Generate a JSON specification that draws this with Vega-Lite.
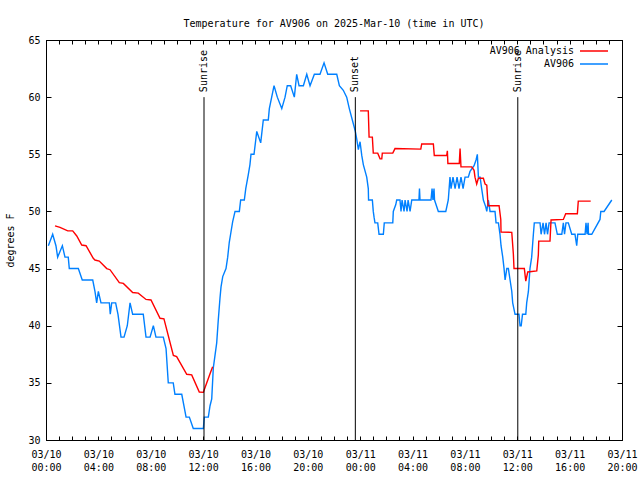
{
  "$schema": "https://vega.github.io/schema/vega-lite/v6.json",
  "width": 576,
  "height": 400,
  "autosize": {"type": "none"},
  "padding": {"left": 46, "top": 40, "right": 18, "bottom": 40},
  "background": "white",
  "title": {"text": "Temperature for AV906 on 2025-Mar-10 (time in UTC)", "font": "DejaVu Sans Mono", "fontSize": 10, "fontWeight": "normal", "color": "black", "anchor": "middle", "baseline": "alphabetic", "offset": -2},
  "config": {
    "view": {"stroke": "black", "strokeWidth": 1},
    "axis": {"grid": false, "domainColor": "black", "tickColor": "black", "labelColor": "black", "labelFont": "DejaVu Sans Mono", "labelFontSize": 10, "titleFont": "DejaVu Sans Mono", "titleFontSize": 10, "titleFontWeight": "normal", "titleColor": "black", "labelOverlap": false, "labelFlush": false}
  },
  "datasets": {
    "temps": [
      {"series":"AV906","seg":"o","hour":0.18,"temp":47},{"series":"AV906","seg":"o","hour":0.51,"temp":48},{"series":"AV906","seg":"o","hour":0.76,"temp":47},{"series":"AV906","seg":"o","hour":0.89,"temp":46},{"series":"AV906","seg":"o","hour":1.25,"temp":47},{"series":"AV906","seg":"o","hour":1.45,"temp":46},{"series":"AV906","seg":"o","hour":1.70,"temp":46},{"series":"AV906","seg":"o","hour":1.78,"temp":45},{"series":"AV906","seg":"o","hour":2.47,"temp":45},{"series":"AV906","seg":"o","hour":2.77,"temp":44},
      {"series":"AV906","seg":"o","hour":3.57,"temp":44},{"series":"AV906","seg":"o","hour":3.74,"temp":43},{"series":"AV906","seg":"o","hour":3.87,"temp":42},{"series":"AV906","seg":"o","hour":4.00,"temp":43},{"series":"AV906","seg":"o","hour":4.20,"temp":42},{"series":"AV906","seg":"o","hour":4.84,"temp":42},{"series":"AV906","seg":"o","hour":4.91,"temp":41},{"series":"AV906","seg":"o","hour":5.02,"temp":42},{"series":"AV906","seg":"o","hour":5.32,"temp":42},{"series":"AV906","seg":"o","hour":5.50,"temp":41},
      {"series":"AV906","seg":"o","hour":5.73,"temp":39},{"series":"AV906","seg":"o","hour":5.96,"temp":39},{"series":"AV906","seg":"o","hour":6.21,"temp":40},{"series":"AV906","seg":"o","hour":6.42,"temp":42},{"series":"AV906","seg":"o","hour":6.62,"temp":41},{"series":"AV906","seg":"o","hour":7.43,"temp":41},{"series":"AV906","seg":"o","hour":7.64,"temp":39},{"series":"AV906","seg":"o","hour":7.95,"temp":39},{"series":"AV906","seg":"o","hour":8.20,"temp":40},{"series":"AV906","seg":"o","hour":8.40,"temp":39},
      {"series":"AV906","seg":"o","hour":8.96,"temp":39},{"series":"AV906","seg":"o","hour":9.17,"temp":38},{"series":"AV906","seg":"o","hour":9.34,"temp":35},{"series":"AV906","seg":"o","hour":9.72,"temp":35},{"series":"AV906","seg":"o","hour":9.85,"temp":34},{"series":"AV906","seg":"o","hour":10.37,"temp":34},{"series":"AV906","seg":"o","hour":10.70,"temp":32},{"series":"AV906","seg":"o","hour":10.95,"temp":32},{"series":"AV906","seg":"o","hour":11.25,"temp":31},{"series":"AV906","seg":"o","hour":12.02,"temp":31},
      {"series":"AV906","seg":"o","hour":12.09,"temp":32},{"series":"AV906","seg":"o","hour":12.40,"temp":32},{"series":"AV906","seg":"o","hour":12.53,"temp":33},{"series":"AV906","seg":"o","hour":12.66,"temp":33.6},{"series":"AV906","seg":"o","hour":12.78,"temp":36.3},{"series":"AV906","seg":"o","hour":12.91,"temp":37.4},{"series":"AV906","seg":"o","hour":13.04,"temp":38.5},{"series":"AV906","seg":"o","hour":13.16,"temp":40.5},{"series":"AV906","seg":"o","hour":13.29,"temp":42.4},{"series":"AV906","seg":"o","hour":13.37,"temp":43.4},
      {"series":"AV906","seg":"o","hour":13.50,"temp":44.3},{"series":"AV906","seg":"o","hour":13.75,"temp":45},{"series":"AV906","seg":"o","hour":13.88,"temp":46},{"series":"AV906","seg":"o","hour":14.00,"temp":47.3},{"series":"AV906","seg":"o","hour":14.13,"temp":48.2},{"series":"AV906","seg":"o","hour":14.26,"temp":49.1},{"series":"AV906","seg":"o","hour":14.44,"temp":50},{"series":"AV906","seg":"o","hour":14.77,"temp":50},{"series":"AV906","seg":"o","hour":14.87,"temp":51},{"series":"AV906","seg":"o","hour":15.15,"temp":51},
      {"series":"AV906","seg":"o","hour":15.26,"temp":52},{"series":"AV906","seg":"o","hour":15.45,"temp":53.2},{"series":"AV906","seg":"o","hour":15.58,"temp":54.1},{"series":"AV906","seg":"o","hour":15.66,"temp":55},{"series":"AV906","seg":"o","hour":15.89,"temp":55},{"series":"AV906","seg":"o","hour":16.10,"temp":57},{"series":"AV906","seg":"o","hour":16.40,"temp":56},{"series":"AV906","seg":"o","hour":16.60,"temp":58},{"series":"AV906","seg":"o","hour":16.98,"temp":58},{"series":"AV906","seg":"o","hour":17.06,"temp":59},
      {"series":"AV906","seg":"o","hour":17.24,"temp":60},{"series":"AV906","seg":"o","hour":17.42,"temp":61},{"series":"AV906","seg":"o","hour":17.67,"temp":60},{"series":"AV906","seg":"o","hour":18.01,"temp":59},{"series":"AV906","seg":"o","hour":18.26,"temp":60},{"series":"AV906","seg":"o","hour":18.43,"temp":61},{"series":"AV906","seg":"o","hour":18.69,"temp":61},{"series":"AV906","seg":"o","hour":18.97,"temp":60},{"series":"AV906","seg":"o","hour":19.15,"temp":62},{"series":"AV906","seg":"o","hour":19.33,"temp":61},
      {"series":"AV906","seg":"o","hour":19.66,"temp":61},{"series":"AV906","seg":"o","hour":19.92,"temp":62},{"series":"AV906","seg":"o","hour":20.17,"temp":61},{"series":"AV906","seg":"o","hour":20.50,"temp":62},{"series":"AV906","seg":"o","hour":20.93,"temp":62},{"series":"AV906","seg":"o","hour":21.24,"temp":63},{"series":"AV906","seg":"o","hour":21.52,"temp":62},{"series":"AV906","seg":"o","hour":22.21,"temp":62},{"series":"AV906","seg":"o","hour":22.41,"temp":61},{"series":"AV906","seg":"o","hour":22.71,"temp":60.6},
      {"series":"AV906","seg":"o","hour":22.97,"temp":60},{"series":"AV906","seg":"o","hour":23.17,"temp":59},{"series":"AV906","seg":"o","hour":23.40,"temp":58},{"series":"AV906","seg":"o","hour":23.63,"temp":57},{"series":"AV906","seg":"o","hour":23.74,"temp":56.3},{"series":"AV906","seg":"o","hour":23.86,"temp":55.4},{"series":"AV906","seg":"o","hour":23.99,"temp":56.1},{"series":"AV906","seg":"o","hour":24.12,"temp":54.9},{"series":"AV906","seg":"o","hour":24.24,"temp":54.1},{"series":"AV906","seg":"o","hour":24.50,"temp":53},
      {"series":"AV906","seg":"o","hour":24.62,"temp":52},{"series":"AV906","seg":"o","hour":24.64,"temp":51},{"series":"AV906","seg":"o","hour":24.93,"temp":51},{"series":"AV906","seg":"o","hour":25.00,"temp":50},{"series":"AV906","seg":"o","hour":25.06,"temp":49.5},{"series":"AV906","seg":"o","hour":25.13,"temp":49},{"series":"AV906","seg":"o","hour":25.34,"temp":49},{"series":"AV906","seg":"o","hour":25.44,"temp":48},{"series":"AV906","seg":"o","hour":25.77,"temp":48},{"series":"AV906","seg":"o","hour":25.84,"temp":49},
      {"series":"AV906","seg":"o","hour":26.49,"temp":49},{"series":"AV906","seg":"o","hour":26.53,"temp":50},{"series":"AV906","seg":"o","hour":26.72,"temp":50.6},{"series":"AV906","seg":"o","hour":26.79,"temp":51},{"series":"AV906","seg":"o","hour":27.04,"temp":51},{"series":"AV906","seg":"o","hour":27.12,"temp":50},{"series":"AV906","seg":"o","hour":27.20,"temp":51},{"series":"AV906","seg":"o","hour":27.35,"temp":50},{"series":"AV906","seg":"o","hour":27.43,"temp":51},{"series":"AV906","seg":"o","hour":27.58,"temp":50},
      {"series":"AV906","seg":"o","hour":27.66,"temp":51},{"series":"AV906","seg":"o","hour":27.81,"temp":50},{"series":"AV906","seg":"o","hour":27.94,"temp":51},{"series":"AV906","seg":"o","hour":28.49,"temp":51},{"series":"AV906","seg":"o","hour":28.53,"temp":52},{"series":"AV906","seg":"o","hour":28.57,"temp":51},{"series":"AV906","seg":"o","hour":29.41,"temp":51},{"series":"AV906","seg":"o","hour":29.49,"temp":52},{"series":"AV906","seg":"o","hour":29.56,"temp":51},{"series":"AV906","seg":"o","hour":29.64,"temp":52},
      {"series":"AV906","seg":"o","hour":29.68,"temp":51},{"series":"AV906","seg":"o","hour":29.97,"temp":50},{"series":"AV906","seg":"o","hour":30.54,"temp":50},{"series":"AV906","seg":"o","hour":30.73,"temp":51},{"series":"AV906","seg":"o","hour":30.86,"temp":53},{"series":"AV906","seg":"o","hour":30.94,"temp":52},{"series":"AV906","seg":"o","hour":31.09,"temp":53},{"series":"AV906","seg":"o","hour":31.25,"temp":52},{"series":"AV906","seg":"o","hour":31.40,"temp":53},{"series":"AV906","seg":"o","hour":31.55,"temp":52},
      {"series":"AV906","seg":"o","hour":31.70,"temp":53},{"series":"AV906","seg":"o","hour":31.86,"temp":52},{"series":"AV906","seg":"o","hour":32.01,"temp":53},{"series":"AV906","seg":"o","hour":32.26,"temp":53},{"series":"AV906","seg":"o","hour":32.39,"temp":53.5},{"series":"AV906","seg":"o","hour":32.70,"temp":54},{"series":"AV906","seg":"o","hour":32.85,"temp":54.5},{"series":"AV906","seg":"o","hour":32.95,"temp":55},{"series":"AV906","seg":"o","hour":33.03,"temp":53},{"series":"AV906","seg":"o","hour":33.16,"temp":53},
      {"series":"AV906","seg":"o","hour":33.28,"temp":52},{"series":"AV906","seg":"o","hour":33.41,"temp":51},{"series":"AV906","seg":"o","hour":33.59,"temp":50.4},{"series":"AV906","seg":"o","hour":33.67,"temp":50},{"series":"AV906","seg":"o","hour":33.79,"temp":51},{"series":"AV906","seg":"o","hour":33.92,"temp":50},{"series":"AV906","seg":"o","hour":34.30,"temp":50},{"series":"AV906","seg":"o","hour":34.38,"temp":49},{"series":"AV906","seg":"o","hour":34.56,"temp":49},{"series":"AV906","seg":"o","hour":34.68,"temp":48},
      {"series":"AV906","seg":"o","hour":34.76,"temp":47},{"series":"AV906","seg":"o","hour":34.89,"temp":46},{"series":"AV906","seg":"o","hour":34.99,"temp":45},{"series":"AV906","seg":"o","hour":35.07,"temp":44},{"series":"AV906","seg":"o","hour":35.20,"temp":45},{"series":"AV906","seg":"o","hour":35.32,"temp":45},{"series":"AV906","seg":"o","hour":35.45,"temp":44},{"series":"AV906","seg":"o","hour":35.58,"temp":43},{"series":"AV906","seg":"o","hour":35.65,"temp":42},{"series":"AV906","seg":"o","hour":35.83,"temp":41},
      {"series":"AV906","seg":"o","hour":36.13,"temp":41},{"series":"AV906","seg":"o","hour":36.21,"temp":40},{"series":"AV906","seg":"o","hour":36.30,"temp":40},{"series":"AV906","seg":"o","hour":36.40,"temp":41},{"series":"AV906","seg":"o","hour":36.65,"temp":41},{"series":"AV906","seg":"o","hour":36.72,"temp":42},{"series":"AV906","seg":"o","hour":36.85,"temp":43},{"series":"AV906","seg":"o","hour":36.97,"temp":45},{"series":"AV906","seg":"o","hour":37.10,"temp":46},{"series":"AV906","seg":"o","hour":37.23,"temp":48},
      {"series":"AV906","seg":"o","hour":37.30,"temp":49},{"series":"AV906","seg":"o","hour":37.74,"temp":49},{"series":"AV906","seg":"o","hour":37.82,"temp":48},{"series":"AV906","seg":"o","hour":37.97,"temp":49},{"series":"AV906","seg":"o","hour":38.08,"temp":48},{"series":"AV906","seg":"o","hour":38.20,"temp":49},{"series":"AV906","seg":"o","hour":38.31,"temp":48},{"series":"AV906","seg":"o","hour":38.43,"temp":49},{"series":"AV906","seg":"o","hour":38.88,"temp":49},{"series":"AV906","seg":"o","hour":39.06,"temp":48},
      {"series":"AV906","seg":"o","hour":39.40,"temp":48},{"series":"AV906","seg":"o","hour":39.52,"temp":49},{"series":"AV906","seg":"o","hour":39.61,"temp":48},{"series":"AV906","seg":"o","hour":39.72,"temp":49},{"series":"AV906","seg":"o","hour":39.90,"temp":49},{"series":"AV906","seg":"o","hour":40.16,"temp":48},{"series":"AV906","seg":"o","hour":40.41,"temp":48},{"series":"AV906","seg":"o","hour":40.54,"temp":47},{"series":"AV906","seg":"o","hour":40.62,"temp":48},{"series":"AV906","seg":"o","hour":41.18,"temp":48},
      {"series":"AV906","seg":"o","hour":41.25,"temp":49},{"series":"AV906","seg":"o","hour":41.33,"temp":48},{"series":"AV906","seg":"o","hour":41.41,"temp":49},{"series":"AV906","seg":"o","hour":41.44,"temp":48},{"series":"AV906","seg":"o","hour":41.69,"temp":48},{"series":"AV906","seg":"o","hour":42.32,"temp":49.3},{"series":"AV906","seg":"o","hour":42.38,"temp":50},{"series":"AV906","seg":"o","hour":42.63,"temp":50},{"series":"AV906","seg":"o","hour":43.22,"temp":51},
      {"series":"AV906 Analysis","seg":"a1","hour":0.69,"temp":48.73},{"series":"AV906 Analysis","seg":"a1","hour":1.07,"temp":48.6},{"series":"AV906 Analysis","seg":"a1","hour":1.66,"temp":48.3},{"series":"AV906 Analysis","seg":"a1","hour":2.04,"temp":48.3},{"series":"AV906 Analysis","seg":"a1","hour":2.35,"temp":47.85},{"series":"AV906 Analysis","seg":"a1","hour":2.73,"temp":47.06},{"series":"AV906 Analysis","seg":"a1","hour":3.06,"temp":47.0},{"series":"AV906 Analysis","seg":"a1","hour":3.61,"temp":45.9},{"series":"AV906 Analysis","seg":"a1","hour":3.74,"temp":45.75},{"series":"AV906 Analysis","seg":"a1","hour":4.07,"temp":45.66},
      {"series":"AV906 Analysis","seg":"a1","hour":4.64,"temp":45.0},{"series":"AV906 Analysis","seg":"a1","hour":4.89,"temp":44.9},{"series":"AV906 Analysis","seg":"a1","hour":5.60,"temp":43.77},{"series":"AV906 Analysis","seg":"a1","hour":5.91,"temp":43.7},{"series":"AV906 Analysis","seg":"a1","hour":6.62,"temp":42.9},{"series":"AV906 Analysis","seg":"a1","hour":7.05,"temp":42.85},{"series":"AV906 Analysis","seg":"a1","hour":7.64,"temp":42.3},{"series":"AV906 Analysis","seg":"a1","hour":8.02,"temp":42.25},{"series":"AV906 Analysis","seg":"a1","hour":8.71,"temp":40.65},{"series":"AV906 Analysis","seg":"a1","hour":9.01,"temp":40.6},
      {"series":"AV906 Analysis","seg":"a1","hour":9.73,"temp":37.4},{"series":"AV906 Analysis","seg":"a1","hour":9.98,"temp":37.3},{"series":"AV906 Analysis","seg":"a1","hour":10.75,"temp":35.75},{"series":"AV906 Analysis","seg":"a1","hour":11.13,"temp":35.7},{"series":"AV906 Analysis","seg":"a1","hour":11.71,"temp":34.2},{"series":"AV906 Analysis","seg":"a1","hour":12.02,"temp":34.17},{"series":"AV906 Analysis","seg":"a1","hour":12.53,"temp":35.8},{"series":"AV906 Analysis","seg":"a1","hour":12.73,"temp":36.4},
      {"series":"AV906 Analysis","seg":"a2","hour":23.99,"temp":58.8},{"series":"AV906 Analysis","seg":"a2","hour":24.62,"temp":58.8},{"series":"AV906 Analysis","seg":"a2","hour":24.68,"temp":56.5},{"series":"AV906 Analysis","seg":"a2","hour":24.93,"temp":56.5},{"series":"AV906 Analysis","seg":"a2","hour":25.00,"temp":55.1},{"series":"AV906 Analysis","seg":"a2","hour":25.34,"temp":55.1},{"series":"AV906 Analysis","seg":"a2","hour":25.52,"temp":54.6},{"series":"AV906 Analysis","seg":"a2","hour":25.65,"temp":54.6},{"series":"AV906 Analysis","seg":"a2","hour":25.69,"temp":55.1},{"series":"AV906 Analysis","seg":"a2","hour":26.49,"temp":55.1},
      {"series":"AV906 Analysis","seg":"a2","hour":26.66,"temp":55.5},{"series":"AV906 Analysis","seg":"a2","hour":28.63,"temp":55.45},{"series":"AV906 Analysis","seg":"a2","hour":28.70,"temp":55.9},{"series":"AV906 Analysis","seg":"a2","hour":29.59,"temp":55.9},{"series":"AV906 Analysis","seg":"a2","hour":29.66,"temp":54.9},{"series":"AV906 Analysis","seg":"a2","hour":30.61,"temp":54.9},{"series":"AV906 Analysis","seg":"a2","hour":30.66,"temp":55.3},{"series":"AV906 Analysis","seg":"a2","hour":30.70,"temp":54.2},{"series":"AV906 Analysis","seg":"a2","hour":31.57,"temp":54.2},{"series":"AV906 Analysis","seg":"a2","hour":31.63,"temp":55.5},
      {"series":"AV906 Analysis","seg":"a2","hour":31.70,"temp":53.9},{"series":"AV906 Analysis","seg":"a2","hour":32.52,"temp":53.9},{"series":"AV906 Analysis","seg":"a2","hour":32.70,"temp":53.6},{"series":"AV906 Analysis","seg":"a2","hour":32.77,"temp":53.0},{"series":"AV906 Analysis","seg":"a2","hour":32.90,"temp":52.4},{"series":"AV906 Analysis","seg":"a2","hour":33.03,"temp":52.9},{"series":"AV906 Analysis","seg":"a2","hour":33.41,"temp":52.9},{"series":"AV906 Analysis","seg":"a2","hour":33.54,"temp":52.4},{"series":"AV906 Analysis","seg":"a2","hour":33.67,"temp":52.3},{"series":"AV906 Analysis","seg":"a2","hour":33.77,"temp":50.5},
      {"series":"AV906 Analysis","seg":"a2","hour":34.61,"temp":50.5},{"series":"AV906 Analysis","seg":"a2","hour":34.74,"temp":49.3},{"series":"AV906 Analysis","seg":"a2","hour":34.76,"temp":48.2},{"series":"AV906 Analysis","seg":"a2","hour":35.58,"temp":48.17},{"series":"AV906 Analysis","seg":"a2","hour":35.70,"temp":46.3},{"series":"AV906 Analysis","seg":"a2","hour":35.75,"temp":45.0},{"series":"AV906 Analysis","seg":"a2","hour":36.54,"temp":45.0},{"series":"AV906 Analysis","seg":"a2","hour":36.65,"temp":43.9},{"series":"AV906 Analysis","seg":"a2","hour":36.80,"temp":44.7},{"series":"AV906 Analysis","seg":"a2","hour":37.49,"temp":44.8},
      {"series":"AV906 Analysis","seg":"a2","hour":37.61,"temp":46.2},{"series":"AV906 Analysis","seg":"a2","hour":37.64,"temp":47.4},{"series":"AV906 Analysis","seg":"a2","hour":38.50,"temp":47.4},{"series":"AV906 Analysis","seg":"a2","hour":38.58,"temp":49.25},{"series":"AV906 Analysis","seg":"a2","hour":39.52,"temp":49.3},{"series":"AV906 Analysis","seg":"a2","hour":39.70,"temp":49.8},{"series":"AV906 Analysis","seg":"a2","hour":40.59,"temp":49.8},{"series":"AV906 Analysis","seg":"a2","hour":40.66,"temp":50.9},{"series":"AV906 Analysis","seg":"a2","hour":41.61,"temp":50.9}
    ],
    "sun": [
      {"hour": 12.07, "label": "Sunrise"},
      {"hour": 23.63, "label": "Sunset"},
      {"hour": 36.04, "label": "Sunrise"}
    ]
  },
  "layer": [
    {
      "data": {"name": "temps"},
      "mark": {"type": "line", "strokeWidth": 1.4, "clip": true},
      "encoding": {
        "x": {"field": "hour", "type": "quantitative", "scale": {"domain": [0, 44], "nice": false, "zero": false},
          "axis": {"orient": "bottom", "title": null, "values": [0,1,2,3,4,5,6,7,8,9,10,11,12,13,14,15,16,17,18,19,20,21,22,23,24,25,26,27,28,29,30,31,32,33,34,35,36,37,38,39,40,41,42,43,44],
            "labelExpr": "datum.value % 4 == 0 ? ['03/' + (datum.value < 24 ? '10' : '11'), (datum.value % 24 < 10 ? '0' : '') + (datum.value % 24) + ':00'] : ''",
            "tickSize": -4, "labelPadding": 13, "labelLineHeight": 13, "labelBaseline": "top"}},
        "y": {"field": "temp", "type": "quantitative", "scale": {"domain": [30, 65], "nice": false, "zero": false},
          "axis": {"orient": "left", "title": "degrees F", "values": [30,35,40,45,50,55,60,65], "tickSize": -5, "labelPadding": 11, "titleAngle": 270, "titleX": -36, "titleY": 200, "titleBaseline": "middle", "titleAlign": "center"}},
        "color": {"field": "series", "type": "nominal", "scale": {"domain": ["AV906 Analysis", "AV906"], "range": ["#ff0000", "#0080ff"]},
          "legend": {"orient": "none", "legendX": 543, "legendY": 6, "title": null, "symbolType": "M-5,0H5", "symbolSize": 31.4, "symbolStrokeWidth": 1.5, "labelAlign": "right", "labelOffset": -25, "labelFont": "DejaVu Sans Mono", "labelFontSize": 10, "labelColor": "black", "padding": 0, "rowPadding": 3}},
        "detail": {"field": "seg", "type": "nominal"}
      }
    },
    {
      "data": {"name": "sun"},
      "mark": {"type": "rule", "color": "black", "strokeWidth": 1},
      "encoding": {
        "x": {"field": "hour", "type": "quantitative",
          "axis": {"orient": "top", "title": null, "labels": false, "values": [0,1,2,3,4,5,6,7,8,9,10,11,12,13,14,15,16,17,18,19,20,21,22,23,24,25,26,27,28,29,30,31,32,33,34,35,36,37,38,39,40,41,42,43,44], "tickSize": -4}},
        "y": {"datum": 30, "type": "quantitative",
          "axis": {"orient": "right", "title": null, "labels": false, "values": [30,35,40,45,50,55,60,65], "tickSize": -5}},
        "y2": {"datum": 60}
      }
    },
    {
      "data": {"name": "sun"},
      "mark": {"type": "text", "angle": 270, "align": "left", "baseline": "middle", "dx": 5, "font": "DejaVu Sans Mono", "fontSize": 10, "color": "black"},
      "encoding": {
        "x": {"field": "hour", "type": "quantitative", "axis": null},
        "y": {"datum": 60, "type": "quantitative", "axis": null},
        "text": {"field": "label"}
      }
    }
  ],
  "resolve": {"axis": {"x": "independent", "y": "independent"}}
}
